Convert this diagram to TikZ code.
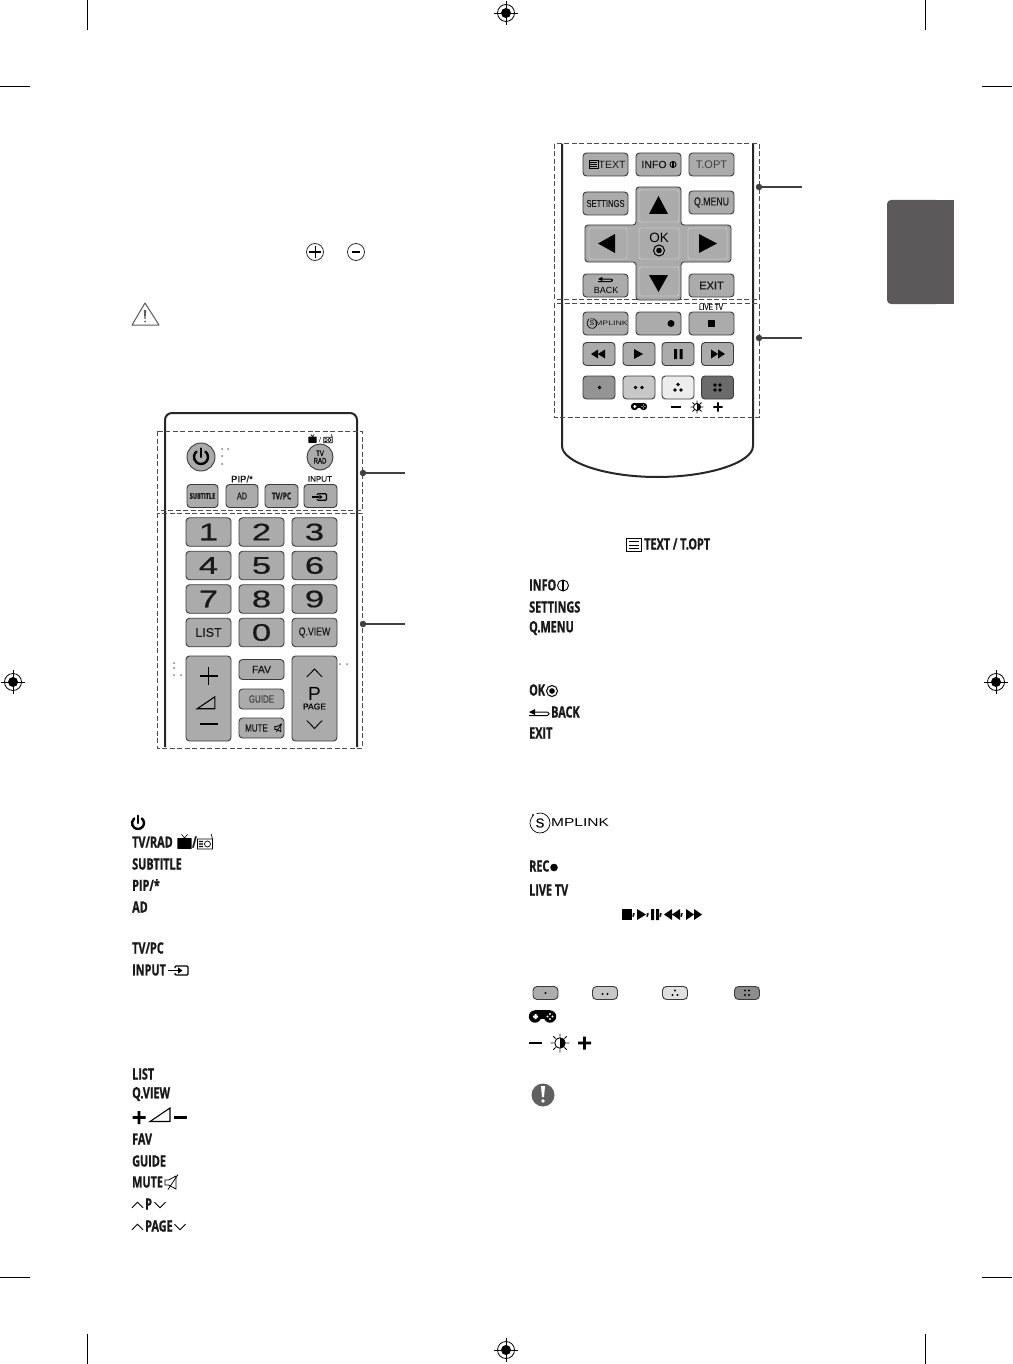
\documentclass[tikz,border=0pt]{standalone}
\usepackage{fontspec}
\setmainfont{Liberation Sans}
\newfontfamily\condfont[FakeStretch=0.70,BoldFeatures={FakeBold=1}]{Open Sans}
\newfontfamily\widefont[FakeStretch=1.45,FakeBold=0.5]{Liberation Sans}
\newfontfamily\thinwidefont[FakeStretch=1.35]{Liberation Sans}
\newfontfamily\narrowfont[FakeStretch=0.76,FakeBold=0.35]{Liberation Sans}
\newfontfamily\btnfont[FakeBold=0.3]{Liberation Sans}
\definecolor{btngray}{HTML}{ABABAB}
\definecolor{btnline}{HTML}{3A3A3A}
\definecolor{tabgray}{HTML}{5B5959}
\tikzset{
  btn/.style={draw=btnline, fill=btngray, rounded corners=3.5pt, line width=0.9pt, inner sep=0pt, align=center, font=\fontsize{10}{10}\selectfont\btnfont, text=black!90},
  btnkey/.style={btn, minimum width=45pt, minimum height=23pt},
  btnhalf/.style={btn, minimum width=32pt, minimum height=23pt},
  btnnum/.style={btn, minimum width=45pt, minimum height=28.5pt, font=\fontsize{24}{24}\selectfont\widefont},
  btnlow/.style={btn, minimum width=45pt, minimum height=20pt},
  btntall/.style={btn, minimum width=45pt, minimum height=85pt},
  btnpad/.style={draw=white!78!black, fill=btngray, rounded corners=2pt, line width=0.9pt, inner sep=0pt},
  btnround/.style={circle, draw=btnline, fill=btngray, line width=0.9pt, inner sep=0pt, align=center, font=\fontsize{8}{7.5}\selectfont\narrowfont},
  zone/.style={draw=black!70, dash pattern=on 5pt off 2.5pt, line width=1pt},
  shell/.style={draw=black!85, line width=2pt},
  calldot/.style={circle, fill=black!75, inner sep=0pt, minimum size=6.5pt},
  callline/.style={draw=black!75, line width=1.1pt},
  printmark/.style={draw=black, line width=0.9pt},
  listlabel/.style={anchor=west, inner sep=0pt, font=\fontsize{15.5}{16}\selectfont\bfseries\condfont, text=black!90},
  toplabel/.style={inner sep=0pt, font=\fontsize{9.5}{10}\selectfont\btnfont, text=black!90},
  regmark/.pic={
    \draw[line width=0.8pt] (0,0) circle (8.5);
    \draw[line width=0.8pt] (-12,0) -- (12,0) (0,-12) -- (0,12);
    \fill (0,0) circle (5);
  },
  powericon/.pic={
    \draw[line width=2.4pt, line cap=round] (4.5,-5.36) arc (-50:230:7);
    \draw[line width=2.4pt, line cap=round] (0,-8.5) -- (0,0);
  },
  tvicon/.pic={
    \draw[line width=0.6pt] (-2.5,-8) -- (0,-5) -- (2.5,-8);
    \fill[rounded corners=0.5pt] (-6,-5) rectangle (6,4);
  },
  radioicon/.pic={
    \draw[line width=0.7pt] (-6,-4) rectangle (6,4) (6,-4) -- (5,-8);
    \draw[line width=0.7pt] (2,0) circle (2.4);
    \fill (-5,-2.5) rectangle (-1.5,-1.5) (-5,-0.5) rectangle (-1.5,0.5) (-5,1.5) rectangle (-1.5,2.5);
  },
  inputicon/.pic={
    \draw[line width=1.2pt, rounded corners=1pt] (-4,-2.5) -- (-4,-4.5) -- (9,-4.5) -- (9,4.5) -- (-4,4.5) -- (-4,2.5);
    \draw[line width=1.2pt] (-11,0) -- (-1,0);
    \fill (-1,-3.2) -- (3.5,0) -- (-1,3.2) -- cycle;
  },
  backicon/.pic={
    \draw[line width=1pt, rounded corners=1.5pt] (-9,0) -- (9,0) -- (9,3.5) -- (-11,3.5);
    \fill (-11,0) -- (-5,-3) -- (-5,3) -- cycle;
  },
  menuicon/.pic={
    \draw[line width=0.9pt] (-7,-6) rectangle (7,6);
    \draw[line width=0.9pt] (-5,-3) -- (5,-3) (-5,0) -- (5,0) (-5,3) -- (5,3);
  },
  gameicon/.pic={
    \fill (-7.5,0) circle (6.2) (7.5,0) circle (6.2);
    \fill (-7.5,-6.2) rectangle (7.5,2);
    \fill[white] (-9.5,-1) rectangle (-4.5,1) (-8,-2.5) rectangle (-6,2.5);
    \fill[white] (7.5,-2.5) circle (1.1) (7.5,2.5) circle (1.1) (5,0) circle (1.1) (10,0) circle (1.1);
  },
  sunicon/.pic={
    \draw[line width=0.9pt] (0,0) circle (5);
    \fill (0,-5) arc (-90:90:5) -- cycle;
    \draw[line width=0.9pt] (-9,0) -- (-6,0) (9,0) -- (6,0) (0,-9) -- (0,-6) (0,9) -- (0,6)
      (-6.4,-6.4) -- (-4.2,-4.2) (6.4,-6.4) -- (4.2,-4.2) (-6.4,6.4) -- (-4.2,4.2) (6.4,6.4) -- (4.2,4.2);
  },
  muteicon/.pic={
    \draw[line width=0.8pt] (-6,-2.5) -- (-2.5,-2.5) -- (5,-6.5) -- (5,6.5) -- (-2.5,2.5) -- (-6,2.5) -- cycle;
    \draw[line width=0.8pt] (-3,7) -- (7,-8);
  },
  infoicon/.pic={
    \draw[line width=0.9pt] (0,0) circle (5.5);
    \fill (-1,-5.5) rectangle (1,5.5);
  },
  okicon/.pic={
    \draw[line width=1pt] (0,0) circle (5.5);
    \fill (0,0) circle (2.8);
  },
  simplinkicon/.pic={
    \draw[line width=0.7pt] (-3.4,-9.4) arc (-110:225:10);
    \fill (-7,-8) circle (1.2);
  },
  upangle/.pic={\draw[line width=0.9pt] (-5.5,2.8) -- (0,-2.8) -- (5.5,2.8);},
  downangle/.pic={\draw[line width=0.9pt] (-5.5,-2.8) -- (0,2.8) -- (5.5,-2.8);},
  wedgeicon/.pic={\draw[line width=1.1pt] (-10,6.5) -- (10,-7) -- (10,6.5) -- cycle;},
  plusicon/.pic={\fill (-6.5,-1.3) rectangle (6.5,1.3) (-1.3,-6.5) rectangle (1.3,6.5);},
  minusicon/.pic={\fill (-6.5,-1.3) rectangle (6.5,1.3);},
}
\begin{document}
\begin{tikzpicture}[x=1pt, y=-1pt]
\useasboundingbox (0,0) rectangle (1012,1364);

% ---- print marks ----
\draw[printmark] (87,0) -- (87,30) (925,0) -- (925,30) (87,1334) -- (87,1364) (925,1334) -- (925,1364);
\draw[printmark] (0,86) -- (30,86) (982,86) -- (1012,86) (0,1277) -- (30,1277) (982,1277) -- (1012,1277);
\pic at (506,13) {regmark};
\pic at (506,1350) {regmark};
\pic at (13,682) {regmark};
\pic at (996,682) {regmark};
\fill[tabgray, rounded corners=4pt] (887,200) rectangle (940,304);
\fill[tabgray] (920,200) rectangle (954,304);

% ---- icons above the remote ----
\node[circle, draw=black!80, line width=0.8pt, minimum size=17pt, inner sep=0pt] (plusmark) at (315,252) {};
\draw[line width=1pt] (309,252) -- (321,252) (315,246) -- (315,258);
\node[circle, draw=black!80, line width=0.8pt, minimum size=17pt, inner sep=0pt] (minusmark) at (356,252) {};
\draw[line width=1pt] (352,252) -- (360,252);
\draw[draw=black!65, line width=1pt, line join=round] (145,303) -- (132,325) -- (159,325) -- cycle;
\fill[black!65] (143.8,310) -- (146.2,310) -- (145.5,319) -- (144.5,319) -- cycle (145,321.5) circle (1);

% ---- first remote ----
\draw[shell, rounded corners=7pt] (165,747) -- (165,413) -- (357,413) -- (357,747);
\draw[zone] (157,431) rectangle (362,510);
\draw[zone] (157,513) rectangle (362,748);
\node[calldot] (dotA) at (363,473) {};
\coordinate (endA) at (405,473);
\draw[callline] (dotA) -- (endA);
\node[calldot] (dotB) at (363,624) {};
\coordinate (endB) at (405,624);
\draw[callline] (dotB) -- (endB);

\node[btnround, minimum size=28pt] (power) at (201,457) {};
\pic at (201,457) {powericon};
\node[btnround, minimum size=26pt] (tvrad) at (320,457) {TV\\RAD};
\pic[scale=0.7] at (312.5,440) {tvicon};
\node[font=\fontsize{7}{7}\selectfont, inner sep=0pt] (tvslash) at (320,440) {/};
\pic[scale=0.7] at (328,440) {radioicon};
\fill[black!50] (222,449) circle (1) (228,449) circle (1) (222,456) circle (1) (222,464) circle (1);

\node[toplabel] (piplabel) at (242,479) {PIP/*};
\node[toplabel, font=\fontsize{8}{8}\selectfont\btnfont] (inputlabel) at (320,479) {INPUT};
\node[btn, minimum width=31pt, minimum height=23pt, font=\fontsize{8}{8}\selectfont\bfseries\condfont] (subtitle) at (202.5,496) {SUBTITLE};
\node[btn, minimum width=32pt, minimum height=23pt, font=\fontsize{9.5}{10}\selectfont\narrowfont] (adkey) at (242,496) {AD};
\node[btn, minimum width=33pt, minimum height=23pt, font=\fontsize{9.5}{10}\selectfont\bfseries\condfont] (tvpc) at (281.5,496) {TV/PC};
\node[btn, minimum width=33pt, minimum height=23pt] (inputkey) at (320.5,496) {};
\pic[scale=0.72] at (320,497) {inputicon};

\node[btnnum] (k1) at (208.5,532) {1};
\node[btnnum] (k2) at (261.5,532) {2};
\node[btnnum] (k3) at (314.5,532) {3};
\node[btnnum] (k4) at (208.5,565.5) {4};
\node[btnnum] (k5) at (261.5,565.5) {5};
\node[btnnum] (k6) at (314.5,565.5) {6};
\node[btnnum] (k7) at (208.5,599) {7};
\node[btnnum] (k8) at (261.5,599) {8};
\node[btnnum] (k9) at (314.5,599) {9};
\node[btnnum, font=\fontsize{12.5}{13}\selectfont\btnfont] (listkey) at (208.5,632.5) {LIST};
\node[btnnum] (k0) at (261.5,632.5) {0};
\node[btnnum, font=\fontsize{11.5}{12}\selectfont\narrowfont] (qview) at (314.5,632.5) {Q.VIEW};

\node[btntall] (volume) at (208.5,698.5) {};
\draw[line width=1.7pt] (199.5,676) -- (217.5,676) (208.5,667) -- (208.5,685) (199.5,724) -- (217.5,724);
\pic[scale=0.88] at (206,703) {wedgeicon};
\node[btnlow, font=\fontsize{10.5}{11}\selectfont\btnfont] (fav) at (261.5,669.5) {FAV};
\node[btnlow, font=\fontsize{10.5}{11}\selectfont\narrowfont, text=black!75] (guide) at (261.5,699) {GUIDE};
\node[btnlow, font=\fontsize{10.5}{11}\selectfont\narrowfont] (mute) at (261.5,728) {MUTE\hspace{10pt}};
\pic[scale=0.55] at (278,728) {muteicon};
\node[btntall] (page) at (314.5,698.5) {};
\pic[scale=1.4] at (314.5,673) {upangle};
\node[inner sep=0pt, font=\fontsize{19}{19}\selectfont] (pagep) at (314.5,694) {P};
\node[inner sep=0pt, font=\fontsize{8.5}{9}\selectfont\btnfont] (pagetext) at (314.5,706.5) {PAGE};
\pic[scale=1.4] at (314.5,724.5) {downangle};
\fill[black!50] (174,663) circle (1) (174,668) circle (1) (174,675) circle (1) (181,675) circle (1) (340,664) circle (1) (347,664) circle (1);

% ---- second remote ----
\draw[shell] (562,144) -- (562,446) .. controls (562,462) and (605,477) .. (657,477) .. controls (710,477) and (753,462) .. (753,446) -- (753,144);
\draw[zone] (554,144) rectangle (759,299);
\draw[zone] (554,303) rectangle (759,417);
\node[calldot] (dotC) at (759,187) {};
\coordinate (endC) at (802,187);
\draw[callline] (dotC) -- (endC);
\node[calldot] (dotD) at (759,338) {};
\coordinate (endD) at (802,338);
\draw[callline] (dotD) -- (endD);

\node[btnkey, font=\fontsize{10.5}{11}\selectfont] (textkey) at (605.5,164.5) {\hspace{13pt}TEXT};
\pic[scale=0.65] at (593.5,164.5) {menuicon};
\node[btnkey, font=\fontsize{10.5}{11}\selectfont\btnfont] (infokey) at (658.5,164.5) {INFO\hspace{9pt}};
\pic[scale=0.55] at (673,164.5) {infoicon};
\node[btnkey, font=\fontsize{11}{11}\selectfont, text=black!75] (topt) at (711.5,164.5) {T.OPT};
\node[btnkey, font=\fontsize{10}{10}\selectfont\narrowfont] (settings) at (605.5,203.5) {SETTINGS};
\node[btnkey, font=\fontsize{11.5}{12}\selectfont\narrowfont] (qmenu) at (711.5,202.5) {Q.MENU};

\fill[btngray, draw=btnline, line width=0.9pt, rounded corners=3pt] (636,187) -- (681,187) -- (681,225) -- (731,225) -- (731,262) -- (681,262) -- (681,300) -- (636,300) -- (636,262) -- (585,262) -- (585,225) -- (636,225) -- cycle;
\node[btnpad, minimum width=40pt, minimum height=32pt] (upkey) at (659,206) {};
\node[btnpad, minimum width=38pt, minimum height=31pt] (leftkey) at (608,243.5) {};
\node[btnpad, minimum width=40pt, minimum height=31pt] (okkey) at (659,243.5) {};
\node[btnpad, minimum width=39pt, minimum height=31pt] (rightkey) at (707.5,243.5) {};
\node[btnpad, minimum width=40pt, minimum height=29pt] (downkey) at (659,281.5) {};
\fill (658.5,196) -- (668,214) -- (649,214) -- cycle;
\fill (598,243.5) -- (615,234) -- (615,253) -- cycle;
\fill (717,243.5) -- (699,234) -- (699,253) -- cycle;
\fill (658.5,292) -- (668,275) -- (649,275) -- cycle;
\node[inner sep=0pt, font=\fontsize{13.5}{14}\selectfont] (oktext) at (659,238) {OK};
\pic[scale=1] at (659,250.5) {okicon};

\node[btnkey] (backkey) at (605.5,285.5) {};
\pic[scale=0.72] at (606,279) {backicon};
\node[inner sep=0pt, font=\fontsize{9}{9}\selectfont] (backtext) at (606,290) {BACK};
\node[btnkey, font=\fontsize{11}{11}\selectfont\btnfont] (exitkey) at (711.5,285.5) {EXIT};

\node[toplabel, font=\fontsize{8.5}{9}\selectfont\narrowfont] (livelabel) at (711,307) {LIVE TV};
\node[btnkey, font=\fontsize{6.5}{7}\selectfont\thinwidefont] (simplink) at (605.5,323.5) {\hspace{12pt}MPLINK};
\pic[scale=0.5] at (592,323.5) {simplinkicon};
\node[inner sep=0pt, font=\fontsize{7}{7}\selectfont] (simplinks) at (592,323.5) {S};
\node[btnkey] (reckey) at (658.5,323.5) {};
\fill (671,323.5) circle (3.5);
\node[btnkey] (stopkey) at (711.5,323.5) {};
\fill (708,320) rectangle (715,327);

\node[btnhalf] (rewkey) at (599,354) {};
\fill (591,354) -- (598,349.5) -- (598,358.5) -- cycle (598,354) -- (605,349.5) -- (605,358.5) -- cycle;
\node[btnhalf] (playkey) at (639,354) {};
\fill (634,349) -- (643,354) -- (634,359) -- cycle;
\node[btnhalf] (pausekey) at (678,354) {};
\fill (674,349) rectangle (677,359) (679.5,349) rectangle (682.5,359);
\node[btnhalf] (ffkey) at (717.5,354) {};
\fill (711,349.5) -- (718,354) -- (711,358.5) -- cycle (718,349.5) -- (725,354) -- (718,358.5) -- cycle;

\node[btnhalf, fill=black!42] (redkey) at (599,387.5) {};
\fill (599.5,387.5) circle (1.8);
\node[btnhalf, fill=black!22] (greenkey) at (639,387.5) {};
\fill (635.5,387.5) circle (1.8) (642,387.5) circle (1.8);
\node[btnhalf, fill=black!7] (yellowkey) at (678,387.5) {};
\fill (678,384.5) circle (1.8) (675,390) circle (1.8) (681,390) circle (1.8);
\node[btnhalf, fill=black!58] (bluekey) at (717.5,387.5) {};
\fill (715,385) circle (1.8) (720,385) circle (1.8) (715,390) circle (1.8) (720,390) circle (1.8);
\pic[scale=0.6] at (639,406.5) {gameicon};
\pic[scale=0.7] at (676,407) {minusicon};
\pic[scale=0.7] at (697,407) {sunicon};
\pic[scale=0.7] at (718,407) {plusicon};

% ---- left list ----
\pic[scale=0.85] at (138,823) {powericon};
\node[listlabel] (ltvrad) at (132,842) {TV/RAD};
\pic[scale=1.2] at (184.5,844) {tvicon};
\node[listlabel] (lslash) at (192,842) {/};
\pic[scale=1.25] at (205,844) {radioicon};
\node[listlabel] (lsubtitle) at (132,864) {SUBTITLE};
\node[listlabel] (lpip) at (132,885) {PIP/*};
\node[listlabel] (lad) at (132,907) {AD};
\node[listlabel] (ltvpc) at (132,948) {TV/PC};
\node[listlabel] (linput) at (132,970) {INPUT};
\pic at (179,970.5) {inputicon};

\node[listlabel] (llist) at (132,1074) {LIST};
\node[listlabel] (lqview) at (132,1094) {Q.VIEW};
\pic at (139,1117.5) {plusicon};
\pic at (160,1115) {wedgeicon};
\pic at (180,1117.5) {minusicon};
\node[listlabel] (lfav) at (132,1139) {FAV};
\node[listlabel] (lguide) at (132,1161) {GUIDE};
\node[listlabel] (lmute) at (132,1182) {MUTE};
\pic at (171,1182.5) {muteicon};
\pic at (137.5,1205) {upangle};
\node[listlabel] (lp) at (145,1204) {P};
\pic at (160,1205) {downangle};
\pic at (137.5,1227) {upangle};
\node[listlabel] (lpage) at (145,1226) {PAGE};
\pic at (180,1227) {downangle};

% ---- right list ----
\pic[scale=1.05] at (634,545) {menuicon};
\node[listlabel] (ltext) at (644,544) {TEXT / T.OPT};
\node[listlabel] (linfo) at (529,585) {INFO};
\pic at (563,585.5) {infoicon};
\node[listlabel] (lsettings) at (529,607) {SETTINGS};
\node[listlabel] (lqmenu) at (529,628) {Q.MENU};
\node[listlabel] (lok) at (529,690) {OK};
\pic at (552,691) {okicon};
\pic at (540,712) {backicon};
\node[listlabel] (lback) at (551,712) {BACK};
\node[listlabel] (lexit) at (529,733) {EXIT};

\pic at (540,823) {simplinkicon};
\node[inner sep=0pt, font=\fontsize{13}{13}\selectfont\btnfont] (lsmark) at (540,823) {S};
\node[anchor=west, inner sep=0pt, font=\fontsize{11.5}{12}\selectfont\thinwidefont] (lsimplink) at (551,823) {MPLINK};
\node[listlabel] (lrec) at (529,866) {REC};
\fill (554,867.5) circle (3.8);
\node[listlabel] (llive) at (529,890) {LIVE TV};
\fill (622,909) rectangle (632,920);
\node[listlabel] (lcomma1) at (632,915) {,};
\fill (637,909) -- (646,914.5) -- (637,920) -- cycle;
\node[listlabel] (lcomma2) at (646,915) {,};
\fill (651,909) rectangle (654,920) (656,909) rectangle (659,920);
\node[listlabel] (lcomma3) at (659,915) {,};
\fill (664,914.5) -- (672,909) -- (672,920) -- cycle (672,914.5) -- (680,909) -- (680,920) -- cycle;
\node[listlabel] (lcomma4) at (680,915) {,};
\fill (686,909) -- (694,914.5) -- (686,920) -- cycle (694,909) -- (702,914.5) -- (694,920) -- cycle;

\node[btn, minimum width=25pt, minimum height=13pt, rounded corners=4pt, fill=black!32] (lred) at (545.5,993) {};
\fill (545.5,993) circle (1.2);
\node[btn, minimum width=25pt, minimum height=13pt, rounded corners=4pt, fill=black!22] (lgreen) at (605,993) {};
\fill (602.5,994) circle (1.2) (607.5,994) circle (1.2);
\node[btn, minimum width=25pt, minimum height=13pt, rounded corners=4pt, fill=black!12] (lyellow) at (675,993) {};
\fill (675,990.5) circle (1.2) (672.5,995) circle (1.2) (677.5,995) circle (1.2);
\node[btn, minimum width=25pt, minimum height=13pt, rounded corners=4pt, fill=black!45] (lblue) at (747,993) {};
\fill (745,990.5) circle (1.2) (749,990.5) circle (1.2) (745,995) circle (1.2) (749,995) circle (1.2);
\pic at (542.5,1016.5) {gameicon};
\pic at (535.5,1043) {minusicon};
\pic[scale=1.05] at (560,1043) {sunicon};
\pic at (584.5,1043) {plusicon};

\node[circle, fill=black!62, minimum size=23pt, inner sep=0pt] (notemark) at (543,1095) {};
\fill[white] (541,1086) -- (545,1086) -- (544,1097) -- (542,1097) -- cycle (543,1101) circle (1.8);

\end{tikzpicture}
\end{document}
